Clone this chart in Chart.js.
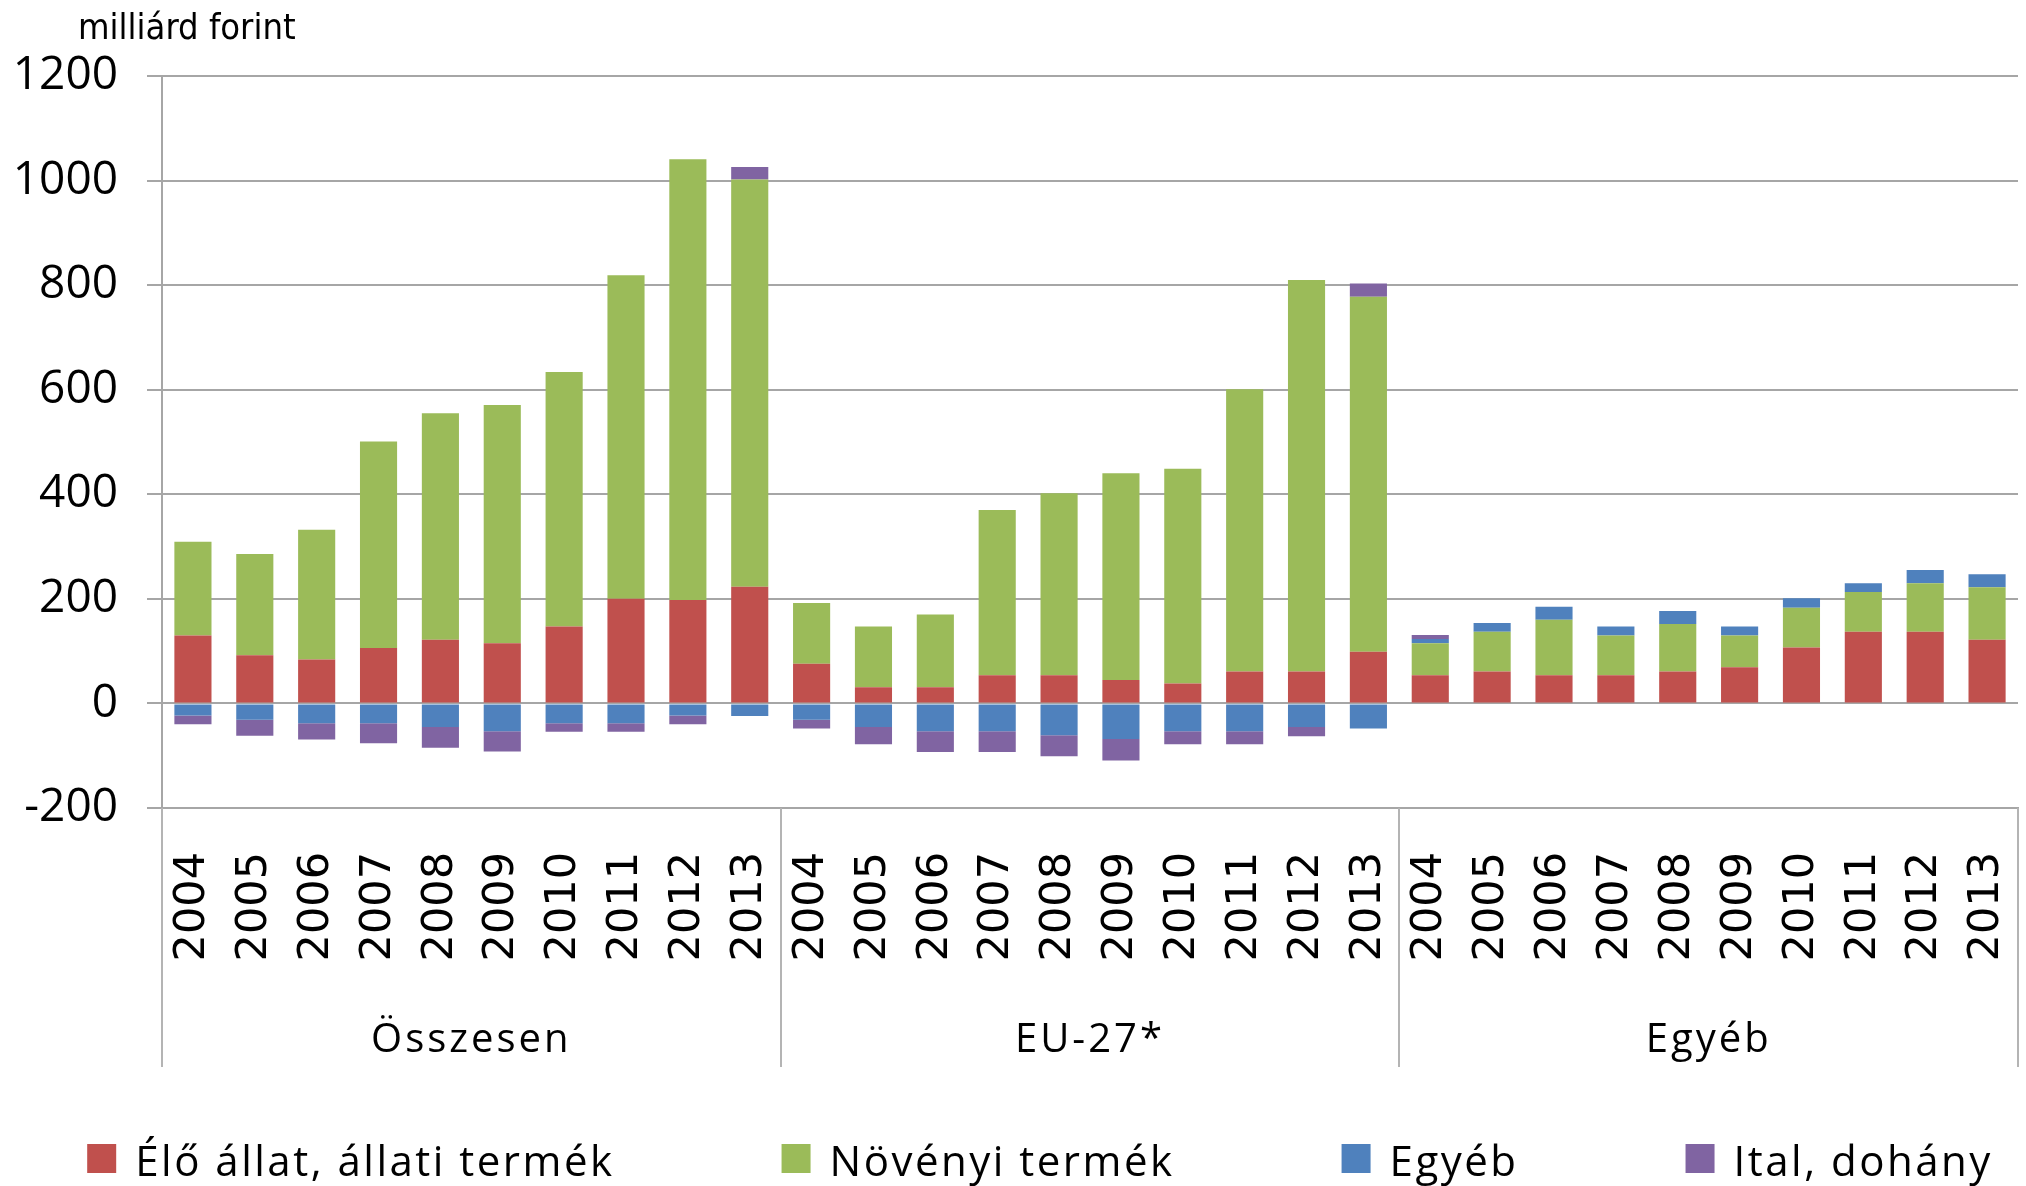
<!DOCTYPE html>
<html>
<head>
<meta charset="utf-8">
<script src="https://cdn.jsdelivr.net/npm/chart.js@4.4.1/dist/chart.umd.min.js"></script>
<style>
  html, body { margin: 0; padding: 0; background: #fff; }
  canvas { display: block; }
</style>
</head>
<body>
<canvas id="myChart" width="2026" height="1186"></canvas>
<script>
// years shown under every group
const years = ["2004", "2005", "2006", "2007", "2008", "2009", "2010", "2011", "2012", "2013"];
const groups = ["Összesen", "EU-27*", "Egyéb"];
const yTicks = [-200, 0, 200, 400, 600, 800, 1000, 1200];

// milliárd forint, per group (Összesen, EU-27*, Egyéb)
const eloAllatOssz = [130, 92, 84, 106, 122, 115, 147, 200, 198, 223];
const eloAllatEU = [76, 31, 31, 54, 54, 45, 38, 61, 61, 99];
const eloAllatEgyeb = [54, 61, 54, 54, 61, 69, 107, 137, 137, 122];

const novenyiOssz = [179, 194, 248, 395, 433, 456, 487, 619, 843, 779];
const novenyiEU = [116, 116, 139, 316, 348, 395, 411, 540, 749, 679];
const novenyiEgyeb = [61, 76, 106, 76, 91, 61, 76, 76, 93, 100];

const egyebOssz = [-23, -31, -38, -38, -45, -53, -38, -38, -23, -24];
const egyebEU = [-31, -45, -53, -53, -61, -68, -53, -53, -45, -48];
const egyebEgyeb = [8, 17, 25, 17, 25, 17, 18, 17, 25, 25];

const italOssz = [-17, -31, -31, -38, -40, -39, -16, -16, -17, 24];
const italEU = [-17, -33, -40, -40, -40, -41, -25, -25, -18, 25];
const italEgyeb = [8, 0, 0, 0, 0, 0, 0, 0, 0, 0];

const seriesNames = ["Élő állat, állati termék", "Növényi termék", "Egyéb", "Ital, dohány"];
const seriesColors = ["#C0504D", "#9BBB59", "#4F81BD", "#8064A2"];

const labels = [...years, ...years, ...years];
const seriesData = [
  [...eloAllatOssz, ...eloAllatEU, ...eloAllatEgyeb],
  [...novenyiOssz, ...novenyiEU, ...novenyiEgyeb],
  [...egyebOssz, ...egyebEU, ...egyebEgyeb],
  [...italOssz, ...italEU, ...italEgyeb],
];

const gridGray = "#a6a6a6";

// y title, group labels with separators, legend at the bottom
const extras = {
  id: "extras",
  afterDraw(chart) {
    const ctx = chart.ctx;
    const area = chart.chartArea;
    ctx.save();

    ctx.fillStyle = "#000";
    ctx.font = '36px "Liberation Sans Narrow", "DejaVu Sans Condensed", "Roboto", sans-serif';
    ctx.textAlign = "left";
    ctx.textBaseline = "alphabetic";
    ctx.fillText("milliárd forint", 78, 39);

    // separators between groups
    ctx.strokeStyle = "#b4b4b4";
    ctx.lineWidth = 2;
    const groupW = (area.right - area.left) / groups.length;
    for (let k = 0; k <= groups.length; k++) {
      const x = Math.round(area.left + k * groupW);
      ctx.beginPath();
      ctx.moveTo(x, area.bottom);
      ctx.lineTo(x, 1067);
      ctx.stroke();
    }

    ctx.font = '40px "Open Sans", sans-serif';
    ctx.letterSpacing = "3px";
    ctx.textAlign = "center";
    for (let k = 0; k < groups.length; k++) {
      ctx.fillText(groups[k], area.left + (k + 0.5) * groupW, 1052);
    }

    // legend
    ctx.font = '42px "Open Sans", sans-serif';
    ctx.letterSpacing = "2.5px";
    ctx.textAlign = "left";
    const box = 29, gapText = 19, gapItem = 167;
    const widths = seriesNames.map((n) => ctx.measureText(n).width);
    let total = gapItem * (seriesNames.length - 1);
    widths.forEach((w) => (total += box + gapText + w));
    let x = 1040 - total / 2;
    for (let i = 0; i < seriesNames.length; i++) {
      ctx.fillStyle = seriesColors[i];
      ctx.fillRect(x, 1144, box, box);
      ctx.fillStyle = "#000";
      ctx.fillText(seriesNames[i], x + box + gapText, 1176);
      x += box + gapText + widths[i] + gapItem;
    }
    ctx.restore();
  },
};

new Chart(document.getElementById("myChart"), {
  type: "bar",
  data: {
    labels: labels,
    datasets: seriesNames.map((name, i) => ({
      label: name,
      data: seriesData[i],
      backgroundColor: seriesColors[i],
      borderWidth: 0,
      barPercentage: 0.6,
      categoryPercentage: 1.0,
    })),
  },
  options: {
    responsive: false,
    animation: false,
    devicePixelRatio: 1,
    layout: { padding: { left: 12, right: 8, top: 76, bottom: 0 } },
    plugins: {
      legend: { display: false },
      tooltip: { enabled: false },
    },
    scales: {
      x: {
        stacked: true,
        grid: { display: false, drawTicks: false },
        border: { display: true, color: gridGray, width: 2 },
        ticks: {
          autoSkip: false,
          minRotation: 90,
          maxRotation: 90,
          padding: 44,
          color: "#000",
          font: { family: "DejaVu Sans", size: 43 },
        },
        afterFit(scale) {
          scale.height = 378;
          scale.paddingLeft = 0;
          scale.paddingRight = 0;
        },
      },
      y: {
        stacked: true,
        min: -200,
        max: 1200,
        afterBuildTicks(scale) {
          scale.ticks = yTicks.map((v) => ({ value: v }));
        },
        grid: {
          color: gridGray,
          lineWidth: 2,
          drawTicks: true,
          tickLength: 15,
        },
        border: { display: true, color: gridGray, width: 2 },
        ticks: {
          padding: 29,
          color: "#000",
          font: { family: "Open Sans", size: 46 },
          callback: (v) => String(v),
        },
        afterFit(scale) {
          scale.width = 150;
        },
      },
    },
  },
  plugins: [extras],
});
</script>
</body>
</html>
